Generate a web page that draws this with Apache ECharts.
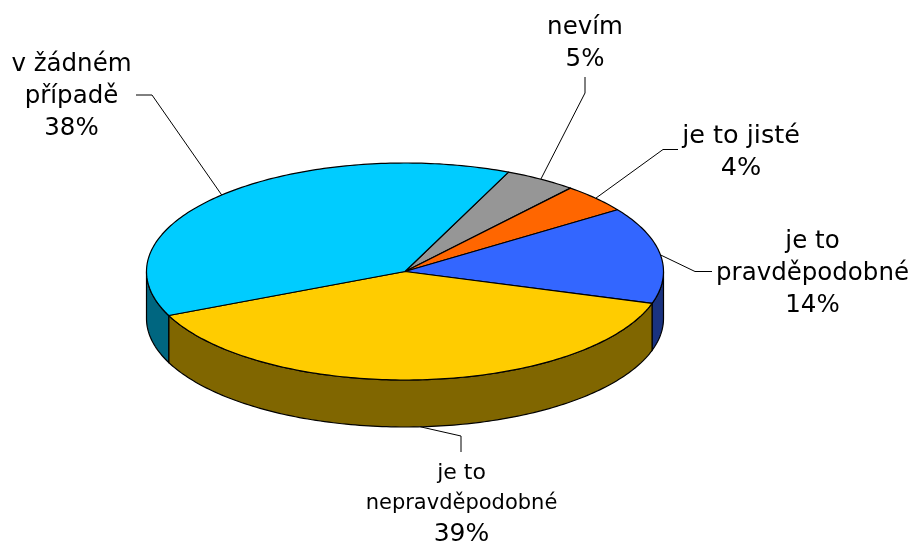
<!DOCTYPE html>
<html>
<head>
<meta charset="utf-8">
<style>
html,body{margin:0;padding:0;background:#fff;}
#main{width:910px;height:542px;}
</style>
<script src="https://cdn.jsdelivr.net/npm/echarts@6/dist/echarts.min.js"></script>
</head>
<body>
<div id="main"></div>
<script>
// clockwise from the first slice
var categories = ['nevím', 'je to jisté', 'je to pravděpodobné', 'je to nepravděpodobné', 'v žádném případě'];
var values = [4.5, 4.3, 14.4, 38.6, 38.2];
var percentLabels = ['5%', '4%', '14%', '39%', '38%'];
var labelLines = [['nevím'], ['je to jisté'], ['je to', 'pravděpodobné'], ['je to', 'nepravděpodobné'], ['v žádném', 'případě']];
var topColors = ['#969696', '#FF6600', '#3366FF', '#FFCC00', '#00CCFF'];
var sideColors = ['#4b4b4b', '#803300', '#1A3380', '#806600', '#006680'];

// layout of the tilted pie
var cx = 405, cy = 271.5, rx = 258.5, ry = 108.5, depth = 47, startAngle = 23.6;
// label: x, y of first line, line step, font size of each line
var labelPos = [
    {x: 585, y: 28, step: 32, sizes: [24.5, 24.5]},
    {x: 741, y: 136, step: 32, sizes: [25.5, 25.5]},
    {x: 812.5, y: 242, step: 32, sizes: [24.5, 24.5, 24.5]},
    {x: 461.5, y: 473, step: 30.5, sizes: [22, 21, 25]},
    {x: 71.5, y: 65, step: 32, sizes: [24.5, 24.5, 24.5]}
];
// leader line elbows
var leaderPts = [
    [[585, 93], [585, 77]],
    [[663, 149.5], [678, 149.5]],
    [[695, 271.5], [712, 271.5]],
    [[461, 436], [461, 452]],
    [[152, 95], [136, 95]]
];

var total = values.reduce(function (a, b) { return a + b; }, 0);

function rim(deg, dy) {
    var r = deg * Math.PI / 180;
    return [cx + rx * Math.sin(r), cy - ry * Math.cos(r) + (dy || 0)];
}
function arcPts(a0, a1, dy) {
    var pts = [], n = Math.max(2, Math.ceil(Math.abs(a1 - a0)));
    for (var i = 0; i <= n; i++) {
        pts.push(rim(a0 + (a1 - a0) * i / n, dy));
    }
    return pts;
}

function renderSlice(params, api) {
    var i = params.dataIndex;
    var before = 0;
    for (var k = 0; k < i; k++) before += values[k];
    var a0 = startAngle + before / total * 360;
    var a1 = a0 + api.value(0) / total * 360;
    var mid = (a0 + a1) / 2;
    var children = [];

    // wall is only visible on the front half
    var s0 = Math.max(a0, 90), s1 = Math.min(a1, 270);
    if (s1 > s0) {
        var wall = arcPts(s0, s1, 0).concat(arcPts(s1, s0, depth));
        children.push({
            type: 'polygon',
            shape: {points: wall},
            style: {fill: sideColors[i], stroke: '#000', lineWidth: 1.2}
        });
    }
    children.push({
        type: 'polygon',
        shape: {points: [[cx, cy]].concat(arcPts(a0, a1, 0))},
        style: {fill: topColors[i], stroke: '#000', lineWidth: 1.2, lineJoin: 'round'}
    });

    // leader line starts at the middle of the slice
    var front = mid > 90 && mid < 270;
    children.push({
        type: 'polyline',
        shape: {points: [rim(mid, front ? depth : 0)].concat(leaderPts[i])},
        style: {fill: null, stroke: '#000', lineWidth: 1}
    });

    var p = labelPos[i];
    labelLines[i].concat(percentLabels[i]).forEach(function (line, n) {
        children.push({
            type: 'text',
            x: p.x,
            y: p.y + n * p.step,
            style: {
                text: line,
                fill: '#000',
                font: p.sizes[n] + 'px "DejaVu Sans"',
                align: 'center',
                verticalAlign: 'middle'
            }
        });
    });
    return {type: 'group', children: children};
}

var myChart = echarts.init(document.getElementById('main'), null, {renderer: 'canvas'});
var option = {
    animation: false,
    backgroundColor: '#fff',
    series: [{
        type: 'custom',
        coordinateSystem: 'none',
        silent: true,
        renderItem: renderSlice,
        data: values.map(function (v, i) { return {name: categories[i], value: [v]}; })
    }]
};
myChart.setOption(option);
</script>
</body>
</html>
